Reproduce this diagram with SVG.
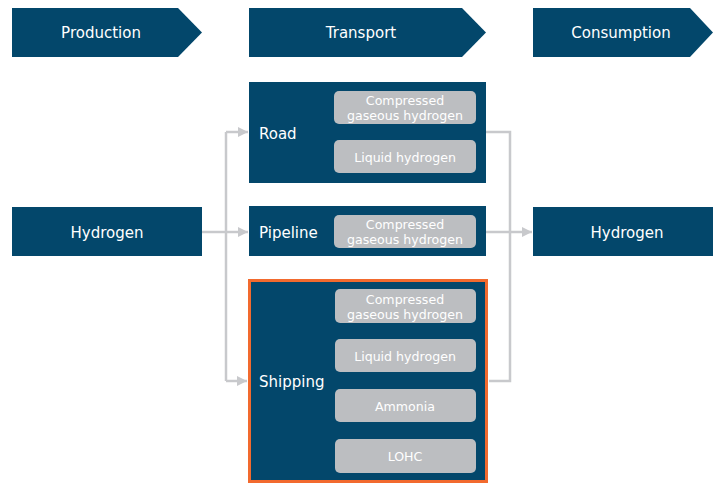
<svg xmlns="http://www.w3.org/2000/svg" width="713" height="483" viewBox="0 0 713 483">
<style>
.dark{fill:#03476b}
.sub{fill:#bcbec1}
.t{font-family:"DejaVu Sans",Verdana,sans-serif;fill:#fff;font-size:15px;dominant-baseline:central}
.c{text-anchor:middle}
.s{font-family:"DejaVu Sans",Verdana,sans-serif;fill:#fff;font-size:12.6px;text-anchor:middle;dominant-baseline:central}
.ln{fill:none;stroke:#c8c9cc;stroke-width:2.5}
</style>
<defs>
<marker id="ah" viewBox="0 0 10 10" refX="10" refY="5" markerWidth="4" markerHeight="4" orient="auto" markerUnits="strokeWidth">
<path d="M0,0 L10,5 L0,10 Z" fill="#c8c9cc"/>
</marker>
</defs>
<rect width="713" height="483" fill="#fff"/>
<g id="hdr-production"><polygon class="dark" points="12,8 178,8 202,32.5 178,57 12,57"/><text class="t c" x="101" y="33">Production</text></g>
<g id="hdr-transport"><polygon class="dark" points="249,8 462,8 486,32.5 462,57 249,57"/><text class="t c" x="361" y="33">Transport</text></g>
<g id="hdr-consumption"><polygon class="dark" points="533,8 690,8 713,32.5 690,57 533,57"/><text class="t c" x="621" y="33">Consumption</text></g>

<g id="connectors">
<path class="ln" d="M202,232 H226"/>
<path class="ln" d="M226,132 V381"/>
<path class="ln" d="M226,132 H248" marker-end="url(#ah)"/>
<path class="ln" d="M226,232 H248" marker-end="url(#ah)"/>
<path class="ln" d="M226,381 H247" marker-end="url(#ah)"/>
<path class="ln" d="M486,132 H510 V381 H489"/>
<path class="ln" d="M486,232 H532" marker-end="url(#ah)"/>
</g>

<g id="hydrogen-production"><rect class="dark" x="12" y="207" width="190" height="49"/><text class="t c" x="107" y="232.5">Hydrogen</text></g>
<g id="hydrogen-consumption"><rect class="dark" x="533" y="207" width="180" height="49"/><text class="t c" x="627" y="232.5">Hydrogen</text></g>

<g id="road">
<rect class="dark" x="249" y="82" width="237" height="101"/>
<text class="t" x="259" y="133.5">Road</text>
<rect class="sub" x="334" y="91" width="142" height="33" rx="5"/>
<text class="s" x="405" y="100.5">Compressed</text><text class="s" x="405" y="115.5">gaseous hydrogen</text>
<rect class="sub" x="334" y="140" width="142" height="33" rx="5"/>
<text class="s" x="405" y="157.5">Liquid hydrogen</text>
</g>

<g id="pipeline">
<rect class="dark" x="249" y="206" width="237" height="50"/>
<text class="t" x="259" y="232.5">Pipeline</text>
<rect class="sub" x="334" y="215" width="142" height="33" rx="5"/>
<text class="s" x="405" y="224.5">Compressed</text><text class="s" x="405" y="239.5">gaseous hydrogen</text>
</g>

<g id="shipping">
<rect class="dark" x="249.5" y="280.5" width="237" height="201" stroke="#f26a2e" stroke-width="3"/>
<text class="t" x="259" y="381.5">Shipping</text>
<rect class="sub" x="335" y="289" width="141" height="34" rx="5"/>
<text class="s" x="405" y="299">Compressed</text><text class="s" x="405" y="314.5">gaseous hydrogen</text>
<rect class="sub" x="335" y="339" width="141" height="33" rx="5"/>
<text class="s" x="405" y="356">Liquid hydrogen</text>
<rect class="sub" x="335" y="389" width="141" height="33" rx="5"/>
<text class="s" x="405" y="406">Ammonia</text>
<rect class="sub" x="335" y="439" width="141" height="34" rx="5"/>
<text class="s" x="405" y="456.5">LOHC</text>
</g>
</svg>
